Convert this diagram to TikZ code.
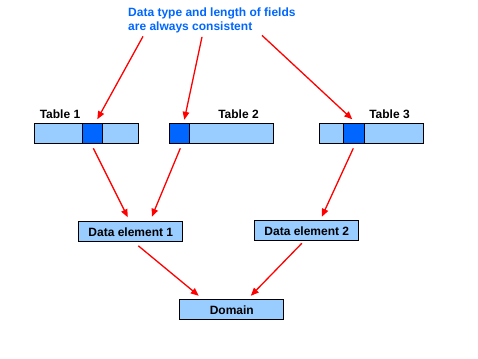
\documentclass[tikz,border=0pt]{standalone}
\usepackage{fontspec}
\setmainfont{Liberation Sans}
\usepackage{xcolor}
\definecolor{colLight}{HTML}{99CCFF}
\definecolor{colField}{HTML}{0066FF}
\definecolor{colNote}{HTML}{0066FF}
\definecolor{colArrow}{HTML}{FF0000}
\usepackage{tikz}
\usetikzlibrary{arrows.meta}

\tikzset{
  bar/.style={draw=black, line width=1pt, fill=colLight, minimum width=104pt, minimum height=20pt, inner sep=0pt},
  field/.style={draw=black, line width=1pt, fill=colField, minimum height=20pt, inner sep=0pt},
  box/.style={bar, font=\fontsize{12}{14}\selectfont\bfseries},
  lbl/.style={font=\fontsize{12}{14}\selectfont\bfseries, inner sep=0pt},
  link/.style={colArrow, line width=1.3pt, -{Triangle[length=8pt,width=6.5pt]}}
}

\begin{document}
\begin{tikzpicture}[x=1pt, y=-1pt]
        % Frame
        \useasboundingbox (0,0) rectangle (478,358);
        % Note
        \node[lbl, colNote, align=left, anchor=base west] (note) at (128,30.7)
            {Data type and length of fields\\are always consistent};
        % Tables
        \foreach \n/\tx/\fx/\fw/\lx in {1/86.8/92.3/20/60, 2/221.8/179.3/20/238.5, 3/371.8/353.8/21/389.5}{
            \node[bar] (table\n) at (\tx,133.8) {};
            \node[field, minimum width=\fw pt] (field\n) at (\fx,133.8) {};
            \node[lbl] (tlabel\n) at (\lx,114.7) {Table \n};}
        % Data elements and domain
        \node[box] (elem1) at (130.8,231.8) {Data element 1};
        \node[box] (elem2) at (306.8,230.8) {Data element 2};
        \node[box] (domain) at (231.8,309.8) {Domain};
        % Arrows
        \draw[link] ([xshift=15pt,yshift=-3pt]note.south west) -- ([xshift=5pt,yshift=4pt]field1.north);
        \draw[link] ([xshift=74pt,yshift=-3.5pt]note.south west) -- ([xshift=5pt,yshift=3.5pt]field2.north);
        \draw[link] ([xshift=134pt,yshift=-2pt]note.south west) -- ([xshift=-1.5pt,yshift=4pt]field3.north);
        \draw[link] ([xshift=1pt,yshift=-4pt]field1.south) -- ([xshift=-3pt,yshift=4pt]elem1.north);
        \draw[link] ([xshift=1pt,yshift=-4pt]field2.south) -- ([xshift=21pt,yshift=4.5pt]elem1.north);
        \draw[link] ([xshift=-0.5pt,yshift=-4pt]field3.south) -- ([xshift=15pt,yshift=3.5pt]elem2.north);
        \draw[link] ([xshift=7.5pt,yshift=-3.5pt]elem1.south) -- ([xshift=-33pt,yshift=3.5pt]domain.north);
        \draw[link] ([xshift=-5pt,yshift=-2pt]elem2.south) -- ([xshift=19pt,yshift=3.5pt]domain.north);
    \end{tikzpicture}
\end{document}
